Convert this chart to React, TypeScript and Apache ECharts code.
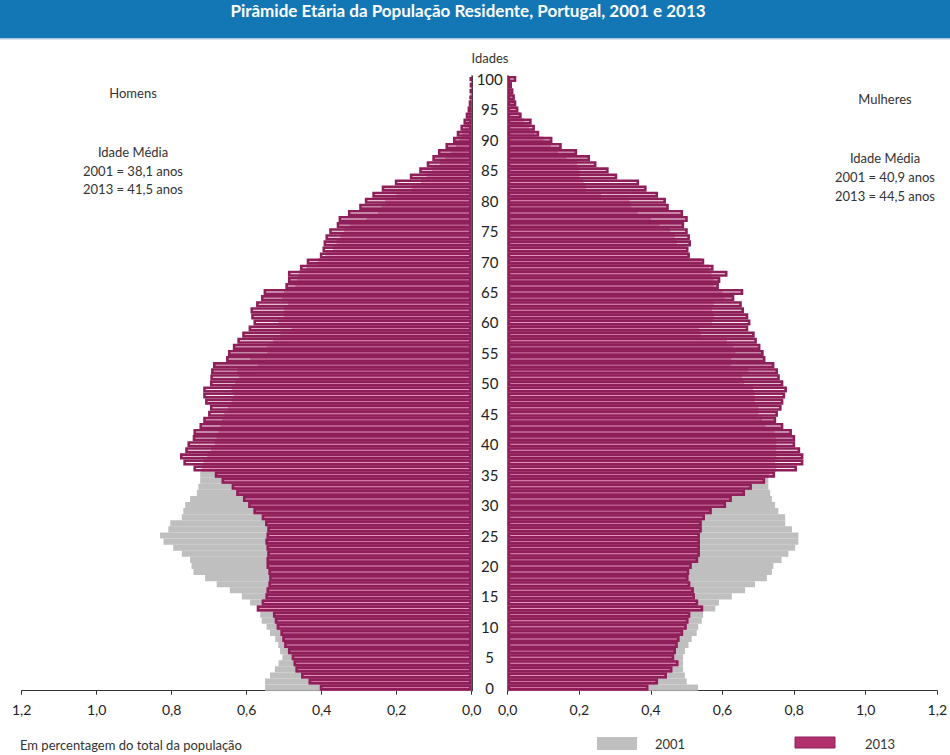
import React, { useEffect, useRef } from "react";
import * as echarts from "echarts";

const ages: string[] = Array.from({ length: 101 }, (_, i) => String(i));

const men2001 = [
  0.551, 0.551, 0.538, 0.525, 0.515, 0.505, 0.511, 0.516, 0.524, 0.538,
  0.547, 0.56, 0.564, 0.573, 0.591, 0.613, 0.645, 0.68, 0.711, 0.742,
  0.747, 0.751, 0.773, 0.796, 0.822, 0.831, 0.809, 0.804, 0.773, 0.769,
  0.764, 0.751, 0.733, 0.729, 0.724, 0.724, 0.72, 0.715, 0.705, 0.695,
  0.685, 0.68, 0.675, 0.67, 0.665, 0.66, 0.65, 0.64, 0.635, 0.64,
  0.63, 0.62, 0.625, 0.57, 0.59, 0.545, 0.545, 0.53, 0.51, 0.48,
  0.515, 0.5, 0.5, 0.49, 0.505, 0.5, 0.47, 0.465, 0.46, 0.44,
  0.41, 0.39, 0.37, 0.36, 0.35, 0.34, 0.325, 0.28, 0.25, 0.24,
  0.23, 0.2, 0.16, 0.135, 0.12, 0.105, 0.085, 0.07, 0.055, 0.042,
  0.032, 0.025, 0.019, 0.014, 0.01, 0.007, 0.005, 0.004, 0.003, 0.002,
  0.002,
];

const men2013 = [
  0.405, 0.435, 0.455, 0.47, 0.475, 0.48, 0.49, 0.5, 0.505, 0.51,
  0.52, 0.525, 0.53, 0.573, 0.56, 0.55, 0.547, 0.542, 0.54, 0.542,
  0.547, 0.547, 0.545, 0.547, 0.55, 0.547, 0.545, 0.551, 0.56, 0.582,
  0.596, 0.61, 0.628, 0.64, 0.667, 0.685, 0.742, 0.769, 0.778, 0.764,
  0.758, 0.744, 0.742, 0.726, 0.716, 0.703, 0.698, 0.711, 0.716, 0.716,
  0.698, 0.697, 0.695, 0.69, 0.655, 0.65, 0.637, 0.625, 0.612, 0.595,
  0.582, 0.588, 0.59, 0.575, 0.562, 0.555, 0.497, 0.49, 0.49, 0.458,
  0.44, 0.405, 0.398, 0.395, 0.39, 0.38, 0.36, 0.355, 0.33, 0.3,
  0.285, 0.265, 0.24, 0.205, 0.165, 0.14, 0.12, 0.105, 0.09, 0.07,
  0.05, 0.04, 0.03, 0.022, 0.016, 0.011, 0.008, 0.006, 0.005, 0.004,
  0.005,
];

const women2001 = [
  0.532, 0.5, 0.495, 0.49, 0.49, 0.49, 0.495, 0.505, 0.514, 0.528,
  0.532, 0.542, 0.546, 0.58, 0.59, 0.626, 0.663, 0.691, 0.724, 0.738,
  0.742, 0.765, 0.784, 0.803, 0.812, 0.812, 0.794, 0.775, 0.775, 0.756,
  0.747, 0.738, 0.733, 0.728, 0.728, 0.73, 0.75, 0.747, 0.75, 0.75,
  0.75, 0.75, 0.745, 0.72, 0.71, 0.7, 0.7, 0.69, 0.69, 0.685,
  0.66, 0.654, 0.672, 0.624, 0.624, 0.636, 0.63, 0.612, 0.54, 0.533,
  0.57, 0.575, 0.57, 0.575, 0.606, 0.6, 0.575, 0.575, 0.569, 0.563,
  0.54, 0.503, 0.497, 0.472, 0.466, 0.454, 0.424, 0.4, 0.363, 0.345,
  0.34, 0.26, 0.218, 0.212, 0.2, 0.2, 0.194, 0.164, 0.14, 0.12,
  0.1, 0.075, 0.06, 0.045, 0.035, 0.025, 0.018, 0.013, 0.009, 0.006,
  0.005,
];

const women2013 = [
  0.393, 0.42, 0.445, 0.46, 0.477, 0.465, 0.47, 0.475, 0.48, 0.49,
  0.5, 0.505, 0.51, 0.546, 0.532, 0.523, 0.52, 0.51, 0.505, 0.507,
  0.514, 0.532, 0.537, 0.537, 0.537, 0.537, 0.542, 0.542, 0.551, 0.57,
  0.61, 0.626, 0.663, 0.682, 0.719, 0.747, 0.808, 0.826, 0.826, 0.817,
  0.803, 0.803, 0.794, 0.77, 0.75, 0.755, 0.765, 0.77, 0.775, 0.78,
  0.77, 0.76, 0.755, 0.745, 0.72, 0.715, 0.706, 0.696, 0.69, 0.672,
  0.678, 0.672, 0.66, 0.654, 0.633, 0.658, 0.59, 0.594, 0.614, 0.575,
  0.549, 0.509, 0.505, 0.512, 0.509, 0.503, 0.493, 0.503, 0.49, 0.45,
  0.442, 0.42, 0.388, 0.367, 0.306, 0.282, 0.248, 0.23, 0.194, 0.151,
  0.125, 0.088, 0.076, 0.067, 0.039, 0.03, 0.024, 0.02, 0.016, 0.012,
  0.024,
];

const xTicks = [0, 0.2, 0.4, 0.6, 0.8, 1.0, 1.2];

const FONT = "Lato, 'Noto Sans', sans-serif";
const GRAY = "#bfbfbf";
const PINK = "#d8649f";
const BORDER = "#8e1f58";

export default function App() {
  const ref = useRef<HTMLDivElement>(null);

  useEffect(() => {
    if (!ref.current) return;
    const chart = echarts.init(ref.current, null, { renderer: "svg" });

    const overlapMen = men2001.map((v, i) => Math.min(v, men2013[i]));
    const overlapWomen = women2001.map((v, i) => Math.min(v, women2013[i]));

    const fmt = (v: number) => v.toFixed(1).replace(".", ",");

    const xAxisCommon = {
      type: "value" as const,
      min: xTicks[0],
      max: xTicks[xTicks.length - 1],
      interval: 0.2,
      splitLine: { show: false },
      axisLine: { show: true, lineStyle: { color: "#333", width: 1 } },
      axisTick: { show: true, length: 4, lineStyle: { color: "#333" } },
      axisLabel: {
        formatter: fmt,
        color: "#222",
        fontSize: 14,
        fontFamily: FONT,
        margin: 12,
      },
    };

    const barCommon = {
      type: "bar" as const,
      barCategoryGap: "0%",
      barGap: "-100%",
      silent: true,
    };

    const txt = (
      text: string,
      x: number,
      y: number,
      opts: Record<string, unknown> = {}
    ) => ({
      type: "text",
      x,
      y,
      silent: true,
      style: {
        text,
        fill: "#333",
        fontSize: 13,
        fontFamily: FONT,
        align: "center",
        verticalAlign: "middle",
        ...opts,
      },
    });

    chart.setOption({
      animation: false,
      backgroundColor: "#ffffff",
      grid: [
        { left: 21.7, top: 76, width: 450, height: 614.7 },
        { left: 507.7, top: 76, width: 429.6, height: 614.7 },
      ],
      xAxis: [
        { ...xAxisCommon, gridIndex: 0, inverse: true },
        { ...xAxisCommon, gridIndex: 1 },
      ],
      yAxis: [
        {
          type: "category",
          gridIndex: 0,
          data: ages,
          position: "right",
          axisLine: { show: true, lineStyle: { color: "#111", width: 1.6 } },
          axisTick: { show: false },
          axisLabel: { show: false },
        },
        {
          type: "category",
          gridIndex: 1,
          data: ages,
          position: "left",
          axisLine: { show: true, lineStyle: { color: "#111", width: 1.6 } },
          axisTick: { show: false },
          axisLabel: {
            show: true,
            interval: (index: number) => index % 5 === 0,
            align: "center",
            margin: 18,
            color: "#222",
            fontSize: 15,
            fontFamily: FONT,
          },
        },
      ],
      series: [
        {
          ...barCommon,
          name: "Homens 2001",
          xAxisIndex: 0,
          yAxisIndex: 0,
          data: men2001,
          itemStyle: { color: GRAY },
        },
        {
          ...barCommon,
          name: "Homens 2001 e 2013",
          xAxisIndex: 0,
          yAxisIndex: 0,
          data: overlapMen,
          itemStyle: { color: PINK },
        },
        {
          ...barCommon,
          name: "Homens 2013",
          xAxisIndex: 0,
          yAxisIndex: 0,
          data: men2013,
          itemStyle: {
            color: "rgba(250,215,232,0.4)",
            borderColor: BORDER,
            borderWidth: 2.6,
          },
        },
        {
          ...barCommon,
          name: "Mulheres 2001",
          xAxisIndex: 1,
          yAxisIndex: 1,
          data: women2001,
          itemStyle: { color: GRAY },
        },
        {
          ...barCommon,
          name: "Mulheres 2001 e 2013",
          xAxisIndex: 1,
          yAxisIndex: 1,
          data: overlapWomen,
          itemStyle: { color: PINK },
        },
        {
          ...barCommon,
          name: "Mulheres 2013",
          xAxisIndex: 1,
          yAxisIndex: 1,
          data: women2013,
          itemStyle: {
            color: "rgba(250,215,232,0.4)",
            borderColor: BORDER,
            borderWidth: 2.6,
          },
        },
      ],
      graphic: [
        {
          type: "rect",
          silent: true,
          shape: { x: 0, y: 0, width: 950, height: 38 },
          style: { fill: "#1377b6" },
        },
        {
          type: "rect",
          silent: true,
          shape: { x: 0, y: 38, width: 950, height: 1.5 },
          style: { fill: "#a9c9e0" },
        },
        txt("Pirâmide Etária da População Residente, Portugal, 2001 e 2013", 468, 10, {
          fill: "#ffffff",
          fontSize: 17,
          fontWeight: "bold",
        }),
        txt("Idades", 490, 58),
        txt("Homens", 133, 93),
        txt("Idade Média", 133, 152),
        txt("2001 = 38,1 anos", 133, 171),
        txt("2013 = 41,5 anos", 133, 189),
        txt("Mulheres", 885, 99),
        txt("Idade Média", 885, 158),
        txt("2001 = 40,9 anos", 885, 177),
        txt("2013 = 44,5 anos", 885, 196),
        txt("Em percentagem do total da população", 20, 745, { align: "left" }),
        {
          type: "rect",
          silent: true,
          shape: { x: 597, y: 737, width: 40, height: 13 },
          style: { fill: GRAY },
        },
        txt("2001", 655, 744, { align: "left" }),
        {
          type: "rect",
          silent: true,
          shape: { x: 795, y: 737, width: 40, height: 11 },
          style: { fill: "#b3306e", stroke: BORDER, lineWidth: 1 },
        },
        txt("2013", 865, 744, { align: "left" }),
      ],
    });

    return () => chart.dispose();
  }, []);

  return (
    <div
      ref={ref}
      style={{ position: "fixed", left: 0, top: 0, width: 950, height: 755 }}
    />
  );
}
